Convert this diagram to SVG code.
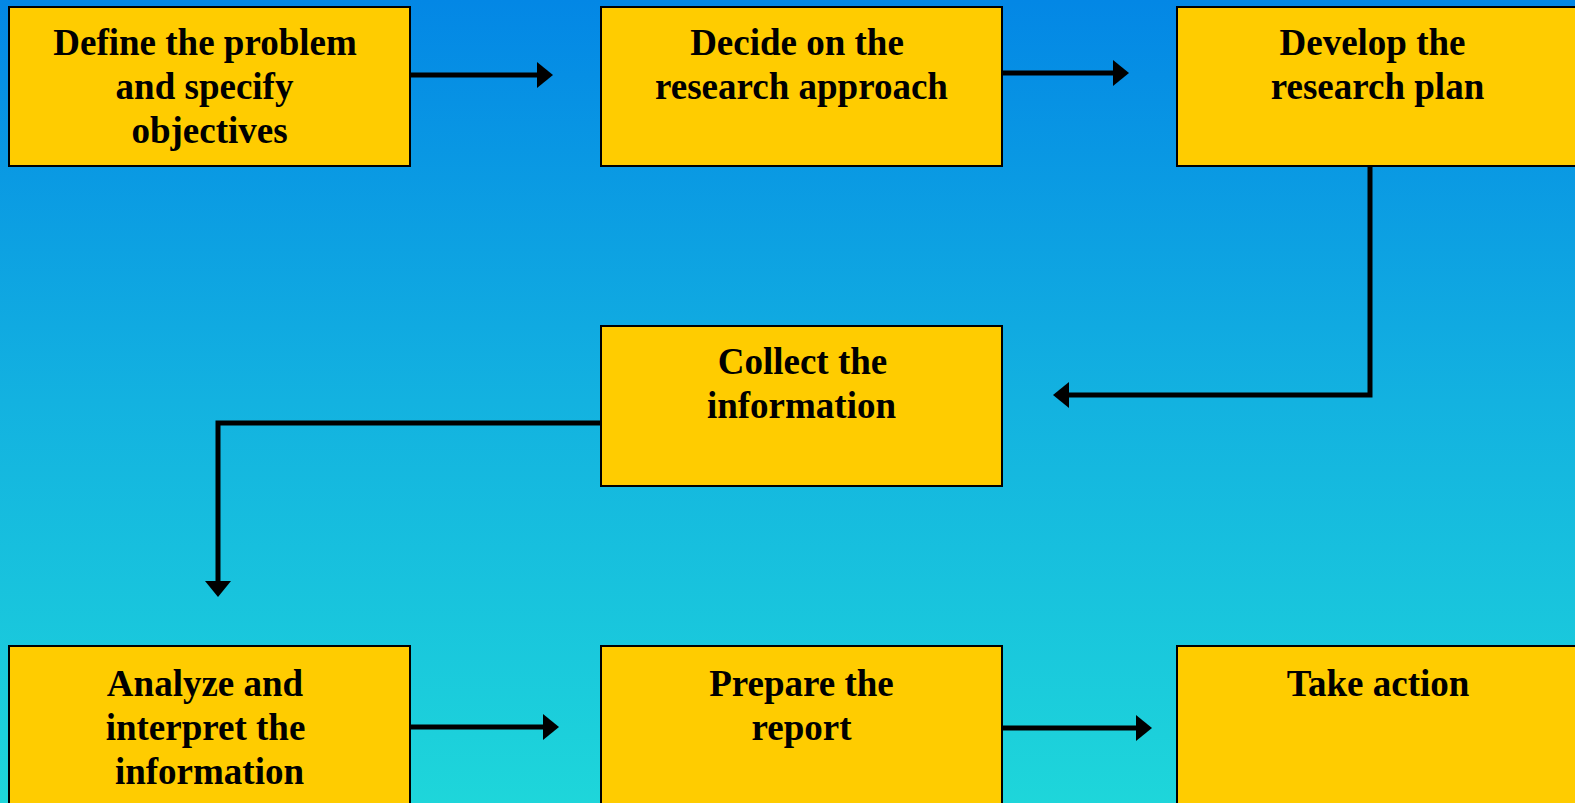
<svg xmlns="http://www.w3.org/2000/svg" width="1575" height="803" viewBox="0 0 1575 803">
  <defs>
    <linearGradient id="bg" x1="0" y1="0" x2="0" y2="1">
      <stop offset="0" stop-color="#0387E5"/>
      <stop offset="0.5" stop-color="#13B2E0"/>
      <stop offset="1" stop-color="#1ED6DA"/>
    </linearGradient>
    <marker id="ah" viewBox="0 0 16 26" refX="1" refY="13" markerWidth="16" markerHeight="26" markerUnits="userSpaceOnUse" orient="auto">
      <path d="M0,0 L16,13 L0,26 Z" fill="#000"/>
    </marker>
    <style>
      .box { fill: #FFCC00; stroke: #000; stroke-width: 2; }
      .lbl { font-family: "Liberation Serif", "Times New Roman", serif; font-weight: bold; font-size: 37px; fill: #000; text-anchor: middle; }
      .conn { fill: none; stroke: #000; stroke-width: 5; marker-end: url(#ah); }
    </style>
  </defs>
  <rect x="0" y="0" width="1575" height="803" fill="url(#bg)"/>

  <g id="connectors">
    <path class="conn" d="M410,75 H538"/>
    <path class="conn" d="M1001,73 H1114"/>
    <path class="conn" d="M1370,167 V395 H1068"/>
    <path class="conn" d="M601,423 H218 V582"/>
    <path class="conn" d="M410,727 H544"/>
    <path class="conn" d="M1001,728 H1137"/>
  </g>

  <g id="n1">
    <rect class="box" x="9" y="7" width="401" height="159"/>
    <text class="lbl" x="205" y="55">Define the problem</text>
    <text class="lbl" x="204.5" y="99">and specify</text>
    <text class="lbl" x="209.5" y="143">objectives</text>
  </g>
  <g id="n2">
    <rect class="box" x="601" y="7" width="401" height="159"/>
    <text class="lbl" x="797" y="55">Decide on the</text>
    <text class="lbl" x="801.5" y="99">research approach</text>
  </g>
  <g id="n3">
    <rect class="box" x="1177" y="7" width="401" height="159"/>
    <text class="lbl" x="1372.5" y="55">Develop the</text>
    <text class="lbl" x="1377.5" y="99">research plan</text>
  </g>
  <g id="n4">
    <rect class="box" x="601" y="326" width="401" height="160"/>
    <text class="lbl" x="802.5" y="374">Collect the</text>
    <text class="lbl" x="801.5" y="418">information</text>
  </g>
  <g id="n5">
    <rect class="box" x="9" y="646" width="401" height="170"/>
    <text class="lbl" x="205" y="696">Analyze and</text>
    <text class="lbl" x="205.5" y="740">interpret the</text>
    <text class="lbl" x="209.5" y="784">information</text>
  </g>
  <g id="n6">
    <rect class="box" x="601" y="646" width="401" height="170"/>
    <text class="lbl" x="801.5" y="696">Prepare the</text>
    <text class="lbl" x="801.5" y="740">report</text>
  </g>
  <g id="n7">
    <rect class="box" x="1177" y="646" width="401" height="170"/>
    <text class="lbl" x="1378" y="696">Take action</text>
  </g>
</svg>
